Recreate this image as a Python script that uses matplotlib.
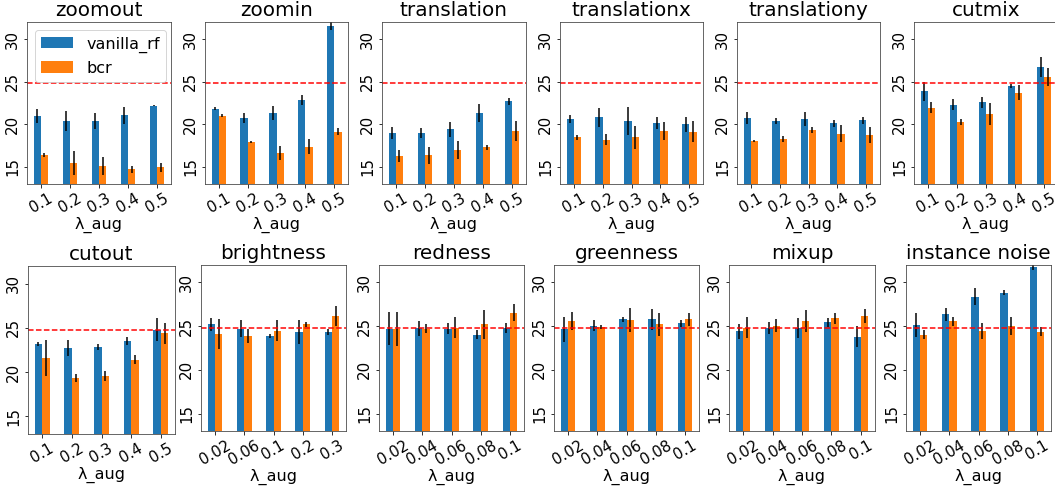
import matplotlib
matplotlib.use('Agg')
import matplotlib.pyplot as plt
import numpy as np

# panel titles and x tick labels
titles = ["zoomout", "zoomin", "translation", "translationx", "translationy", "cutmix",
          "cutout", "brightness", "redness", "greenness", "mixup", "instance noise"]
lam_a = ["0.1", "0.2", "0.3", "0.4", "0.5"]
lam_b = ["0.02", "0.06", "0.1", "0.2", "0.3"]
lam_c = ["0.02", "0.04", "0.06", "0.08", "0.1"]
tick_labels = [lam_a] * 7 + [lam_b] + [lam_c] * 4

# vanilla_rf means / errors
rf_mean = [
    [20.96, 20.38, 20.38, 21.08, 22.19],
    [21.85, 20.73, 21.31, 22.81, 31.50],
    [18.96, 18.96, 19.42, 21.31, 22.69],
    [20.62, 20.85, 20.38, 20.19, 20.00],
    [20.73, 20.38, 20.58, 20.12, 20.46],
    [23.88, 22.31, 22.58, 24.54, 26.73],
    [23.18, 22.73, 22.84, 23.55, 24.80],
    [25.19, 24.73, 23.88, 24.38, 24.35],
    [24.73, 24.77, 24.69, 24.04, 24.77],
    [24.62, 25.04, 25.77, 25.77, 25.31],
    [24.42, 24.81, 24.77, 25.46, 23.81],
    [25.08, 26.35, 28.38, 28.85, 31.81],
]
rf_err = [
    [0.83, 1.13, 0.96, 1.00, 0.05],
    [0.20, 0.56, 0.83, 0.60, 0.46],
    [0.69, 0.62, 0.85, 1.02, 0.44],
    [0.42, 1.12, 1.60, 0.69, 0.87],
    [0.69, 0.38, 0.83, 0.40, 0.42],
    [1.13, 0.63, 0.67, 0.23, 1.13],
    [0.19, 0.89, 0.36, 0.47, 1.30],
    [0.77, 0.96, 0.27, 1.38, 0.37],
    [1.87, 0.87, 0.63, 0.50, 0.54],
    [1.44, 0.62, 0.29, 1.23, 0.42],
    [0.85, 0.69, 1.17, 0.50, 1.21],
    [1.37, 0.77, 0.98, 0.29, 0.40],
]

# bcr means / errors
bcr_mean = [
    [16.38, 15.50, 15.08, 14.73, 14.96],
    [21.00, 17.92, 16.65, 17.35, 19.15],
    [16.27, 16.35, 17.00, 17.31, 19.23],
    [18.46, 18.19, 18.46, 19.23, 19.15],
    [18.00, 18.31, 19.35, 18.88, 18.73],
    [21.96, 20.27, 21.19, 23.73, 25.58],
    [21.60, 19.37, 19.60, 21.41, 24.42],
    [24.12, 23.92, 24.50, 25.19, 26.19],
    [24.69, 24.69, 24.81, 25.19, 26.54],
    [25.58, 24.88, 25.69, 25.19, 25.77],
    [24.81, 25.04, 25.58, 25.88, 26.12],
    [24.04, 25.54, 24.42, 25.04, 24.38],
]
bcr_err = [
    [0.20, 1.40, 1.04, 0.42, 0.56],
    [0.17, 0.15, 0.85, 0.87, 0.42],
    [0.67, 0.96, 1.10, 0.31, 1.19],
    [0.27, 0.65, 1.40, 1.06, 1.27],
    [0.13, 0.37, 0.33, 1.00, 0.96],
    [0.69, 0.31, 1.29, 0.85, 1.04],
    [2.00, 0.45, 0.57, 0.49, 1.19],
    [1.73, 0.81, 1.19, 0.23, 1.12],
    [1.94, 0.50, 1.21, 1.63, 0.98],
    [1.00, 0.25, 1.38, 1.27, 0.77],
    [1.19, 0.75, 1.23, 0.58, 0.81],
    [0.50, 0.50, 0.92, 1.04, 0.52],
]

baseline = 24.8

# axes boxes in pixels: left, right, top, bottom
W, H = 1055, 486
boxes = [
    (27, 171, 22, 184), (205, 348, 22, 184), (382, 526, 22, 184),
    (560, 703, 22, 184), (737, 880, 22, 184), (914, 1058, 22, 184),
    (28, 175, 266, 434), (201, 346, 265, 431), (379, 524, 265, 431),
    (554, 699, 265, 431), (729, 875, 265, 431), (906, 1051, 265, 431),
]

fig = plt.figure(figsize=(W / 72, H / 72), dpi=72)

for i, title in enumerate(titles):
    l, r, t, b = boxes[i]
    ax = fig.add_axes([l / W, 1 - b / H, (r - l) / W, (b - t) / H])
    x = np.arange(len(tick_labels[i]))
    ax.bar(x - 0.125, rf_mean[i], width=0.25, yerr=rf_err[i],
           color="#1f77b4", ecolor="black", error_kw=dict(lw=1.5), label="vanilla_rf")
    ax.bar(x + 0.125, bcr_mean[i], width=0.25, yerr=bcr_err[i],
           color="#ff7f0e", ecolor="black", error_kw=dict(lw=1.5), label="bcr")
    ax.axhline(baseline, color="red", linestyle="--", linewidth=1.5)
    ax.set_ylim(13, 32)
    ax.set_yticks([15, 20, 25, 30])
    ax.tick_params(axis="y", labelrotation=90, labelsize=15)
    ax.set_xticks(x)
    ax.set_xticklabels(tick_labels[i], rotation=30, fontsize=15)
    for lab in ax.get_yticklabels():
        lab.set_va("center")
    ax.set_xlabel("λ_aug", fontsize=16, labelpad=1)
    ax.set_title(title, fontsize=20)
    for s in ax.spines.values():
        s.set_edgecolor("#444444")
    if i == 0:
        ax.legend(loc="upper left", fontsize=16)

fig.savefig("out.png", dpi=72)
